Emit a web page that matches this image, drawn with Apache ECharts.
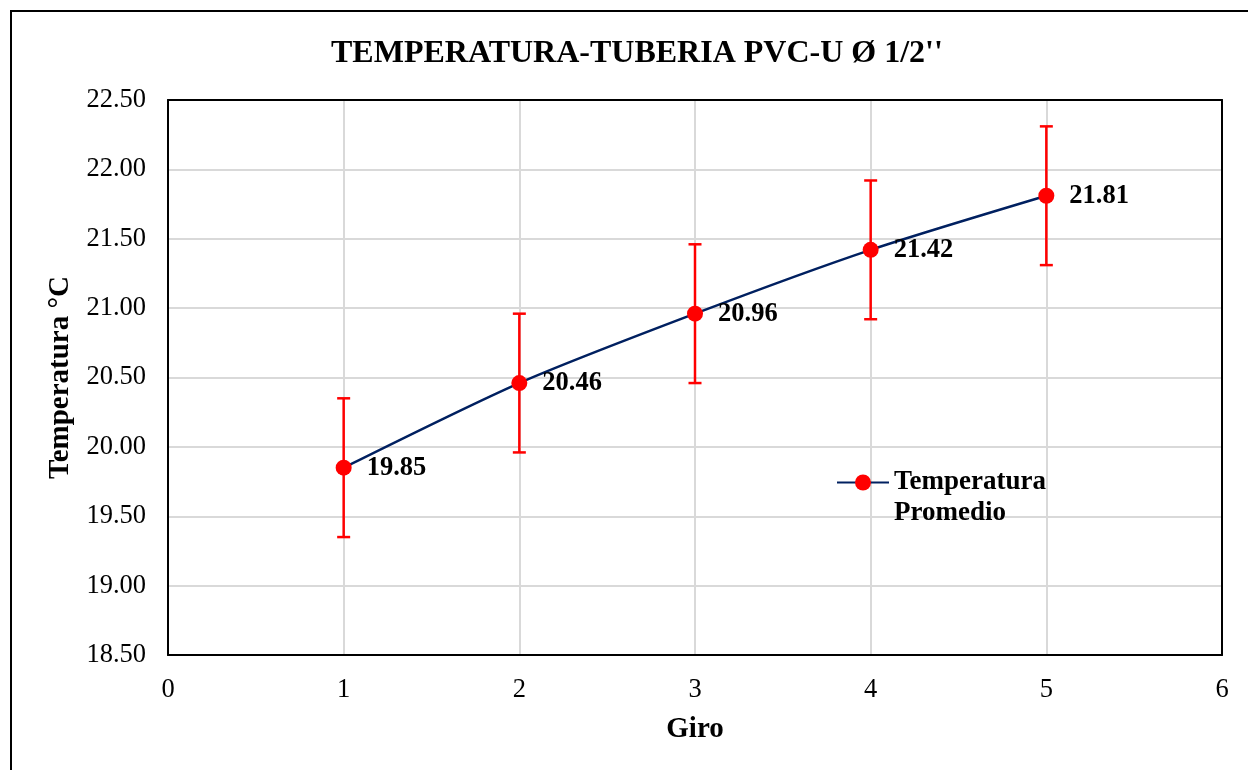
<!DOCTYPE html>
<html><head><meta charset="utf-8">
<script src="https://cdn.jsdelivr.net/npm/echarts@6/dist/echarts.min.js"></script>
<style>html,body{margin:0;padding:0;background:#fff}#c{width:1248px;height:770px}</style>
</head><body><div id="c"></div>
<script>
const chartTitle = "TEMPERATURA-TUBERIA PVC-U Ø 1/2''";
const xAxisTitle = 'Giro';
const yAxisTitle = 'Temperatura °C';
const seriesName = 'Temperatura\nPromedio';
const giro = [1, 2, 3, 4, 5];
const temperatura = [19.85, 20.46, 20.96, 21.42, 21.81];
const errorMargin = [0.5, 0.5, 0.5, 0.5, 0.5];
const xTicks = [0, 1, 2, 3, 4, 5, 6];
const yTicks = [18.5, 19.0, 19.5, 20.0, 20.5, 21.0, 21.5, 22.0, 22.5];

const FONT = "'Liberation Serif','Times New Roman',serif";
const lineData = giro.map((g, i) => [g, temperatura[i]]);
const errData = giro.map((g, i) => [g, temperatura[i] - errorMargin[i], temperatura[i] + errorMargin[i]]);
const xMin = xTicks[0], xMax = xTicks[xTicks.length - 1];
const yMin = yTicks[0], yMax = yTicks[yTicks.length - 1];

const chart = echarts.init(document.getElementById('c'), null, {renderer: 'canvas'});
chart.setOption({
  backgroundColor: '#fff',
  animation: false,
  textStyle: {fontFamily: FONT},
  title: {
    text: chartTitle, left: 331, top: 38, padding: 0,
    textStyle: {fontFamily: FONT, fontSize: 32, fontWeight: 'bold', color: '#000'}
  },
  graphic: [{
    type: 'rect', shape: {x: 11, y: 11, width: 1400, height: 900},
    style: {fill: 'none', stroke: '#000', lineWidth: 2}, silent: true, z: 100
  }],
  legend: {
    left: 836, top: 436, itemWidth: 52, itemHeight: 20, padding: 0,
    data: [{name: seriesName}],
    formatter: name => ' \n' + name,
    textStyle: {fontFamily: FONT, fontSize: 27, fontWeight: 'bold', color: '#000', lineHeight: 31}
  },
  grid: {left: 168, right: 26, top: 100, bottom: 115},
  xAxis: [{
    type: 'value', min: xMin, max: xMax, interval: 1,
    name: xAxisTitle, nameLocation: 'middle', nameGap: 60,
    nameTextStyle: {fontFamily: FONT, fontSize: 29, fontWeight: 'bold', color: '#000'},
    axisLine: {show: true, lineStyle: {color: '#000', width: 2}},
    axisTick: {show: false},
    axisLabel: {margin: 22, fontFamily: FONT, fontSize: 26.5, color: '#000'},
    splitLine: {show: true, lineStyle: {color: '#d9d9d9', width: 2}}
  }, {
    type: 'value', position: 'top', min: xMin, max: xMax, interval: 1,
    axisLine: {show: true, onZero: false, lineStyle: {color: '#000', width: 2}},
    axisTick: {show: false}, axisLabel: {show: false}, splitLine: {show: false}
  }],
  yAxis: [{
    type: 'value', min: yMin, max: yMax, interval: 0.5,
    name: yAxisTitle, nameLocation: 'middle', nameGap: 91, nameRotate: 90,
    nameTextStyle: {fontFamily: FONT, fontSize: 29, fontWeight: 'bold', color: '#000'},
    axisLine: {show: true, lineStyle: {color: '#000', width: 2}},
    axisTick: {show: false},
    axisLabel: {margin: 22, fontFamily: FONT, fontSize: 26.5, color: '#000', padding: [4, 0, 0, 0], formatter: v => v.toFixed(2)},
    splitLine: {show: true, lineStyle: {color: '#d9d9d9', width: 2}}
  }, {
    type: 'value', position: 'right', min: yMin, max: yMax, interval: 0.5,
    axisLine: {show: true, onZero: false, lineStyle: {color: '#000', width: 2}},
    axisTick: {show: false}, axisLabel: {show: false}, splitLine: {show: false}
  }],
  series: [
    {
      type: 'custom', name: 'error', z: 3,
      encode: {x: 0, y: [1, 2]},
      data: errData,
      renderItem: function (params, api) {
        const x = api.value(0);
        const lo = api.coord([x, api.value(1)]);
        const hi = api.coord([x, api.value(2)]);
        const hw = 6.5;
        const st = {stroke: '#FF0000', lineWidth: 2.5};
        return {type: 'group', children: [
          {type: 'line', shape: {x1: hi[0], y1: hi[1], x2: lo[0], y2: lo[1]}, style: st},
          {type: 'line', shape: {x1: hi[0] - hw, y1: hi[1], x2: hi[0] + hw, y2: hi[1]}, style: st},
          {type: 'line', shape: {x1: lo[0] - hw, y1: lo[1], x2: lo[0] + hw, y2: lo[1]}, style: st}
        ]};
      }
    },
    {
      type: 'line', name: seriesName, z: 4,
      data: lineData, smooth: 0.25,
      symbol: 'circle', symbolSize: 16,
      lineStyle: {color: '#002060', width: 2.5},
      itemStyle: {color: '#FF0000', borderWidth: 0},
      label: {
        show: true, position: 'right', distance: 15,
        fontFamily: FONT, fontSize: 26.5, fontWeight: 'bold', color: '#000',
        formatter: p => p.value[1].toFixed(2)
      }
    }
  ]
});
</script></body></html>
